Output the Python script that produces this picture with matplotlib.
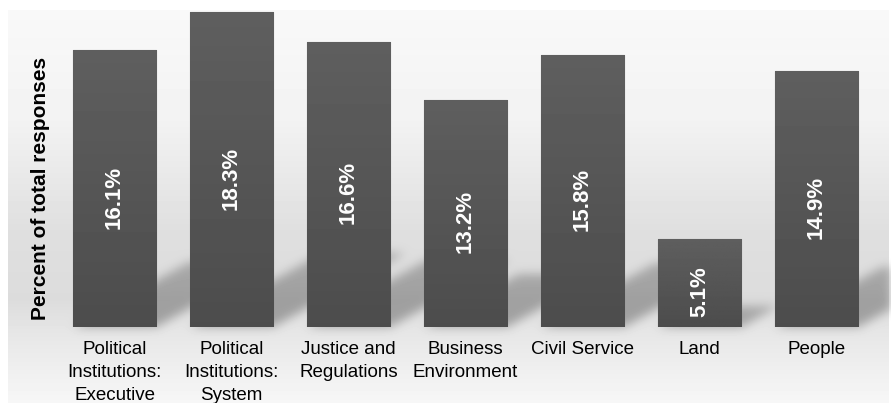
import numpy as np
import matplotlib.pyplot as plt
from matplotlib.path import Path

plt.rcParams["font.family"] = ["Liberation Sans", "DejaVu Sans"]

categories = [
    "Political\nInstitutions:\nExecutive",
    "Political\nInstitutions:\nSystem",
    "Justice and\nRegulations",
    "Business\nEnvironment",
    "Civil Service",
    "Land",
    "People",
]
shares = [16.1, 18.3, 16.6, 13.2, 15.8, 5.1, 14.9]

W, H = 891, 403
fig = plt.figure(figsize=(W / 100, H / 100), dpi=100)

# backdrop axes in pixel units (row 0 at the top)
bg = fig.add_axes([0, 0, 1, 1])
bg.set_xlim(0, W)
bg.set_ylim(H, 0)
bg.axis("off")

ax = fig.add_axes([56 / W, 1 - 327 / H, 819 / W, 318 / H])
ax.set_xlim(-0.5, len(shares) - 0.5)
ax.set_ylim(0, 18.5)
x = np.arange(len(shares))
width = 0.71

# vertical grey gradient of the panel
rows = np.arange(H) + 0.5
stops_y = [10, 120, 230, 300, 330, 403]
stops_v = [0.975, 0.95, 0.875, 0.862, 0.9, 0.968]
grad = np.interp(rows, stops_y, stops_v)
img = np.ones((H, W))
img[10:, 8:889] = grad[10:, None]

# skewed drop shadows behind the bars
yy, xx = np.mgrid[0:H, 0:W]
pts = np.column_stack([xx.ravel() + 0.5, yy.ravel() + 0.5])
mask = np.zeros(H * W)
for xi, v in zip(x, shares):
    (x0, y0), (x1, y1) = ax.transData.transform([(xi - width / 2, 0), (xi + width / 2, v)])
    base = H - y0
    h = y1 - y0
    dy, dx = 0.235 * h, 0.42 * h
    poly = Path([(x0, base), (x1, base), (x1 + dx, base - dy), (x0 + dx, base - dy)])
    inside = poly.contains_points(pts).astype(float)
    fade = 1 - 0.2 * np.clip((base - pts[:, 1]) / max(dy, 1), 0, 1)
    mask = np.maximum(mask, inside * fade)
mask = mask.reshape(H, W)

# gaussian blur, separable
k = np.arange(-15, 16)
kern = np.exp(-0.5 * (k / 5.0) ** 2)
kern /= kern.sum()
mask = np.apply_along_axis(lambda r: np.convolve(r, kern, mode="same"), 1, mask)
mask = np.apply_along_axis(lambda c: np.convolve(c, kern, mode="same"), 0, mask)
img = img * (1 - 0.3 * mask)

bg.imshow(img, cmap="gray", vmin=0, vmax=1, extent=(0, W, H, 0),
          aspect="auto", interpolation="bilinear")

bars = ax.bar(x, shares, width, color="#535353", edgecolor="#707070",
              linewidth=0.8, zorder=3)

# soft top-to-bottom shading on each bar
shade = np.linspace(0.37, 0.3, 64)[:, None]
for b in bars:
    im = ax.imshow(shade, cmap="gray", vmin=0, vmax=1, aspect="auto",
                   extent=(b.get_x(), b.get_x() + b.get_width(), 0, b.get_height()),
                   zorder=3.5)
    im.set_clip_path(b)

for xi, v in zip(x, shares):
    ax.annotate(f"{v:.1f}%", (xi, v / 2), xytext=(0, -6), textcoords="offset points",
                rotation=90, ha="center", va="center", color="white",
                fontsize=16, fontweight="bold", zorder=5)

ax.set_xlim(-0.5, len(shares) - 0.5)
ax.set_ylim(0, 18.5)
ax.set_xticks(x)
ax.set_xticklabels(categories, fontsize=13.5, linespacing=1.45)
ax.tick_params(axis="x", length=0, pad=10)
ax.set_yticks([])
for s in ax.spines.values():
    s.set_visible(False)
ax.patch.set_alpha(0)

fig.text(41 / W, 1 - 188 / H, "Percent of total responses", rotation=90,
         ha="center", va="center", fontsize=15, fontweight="bold")

fig.savefig("out.png", dpi=100)
